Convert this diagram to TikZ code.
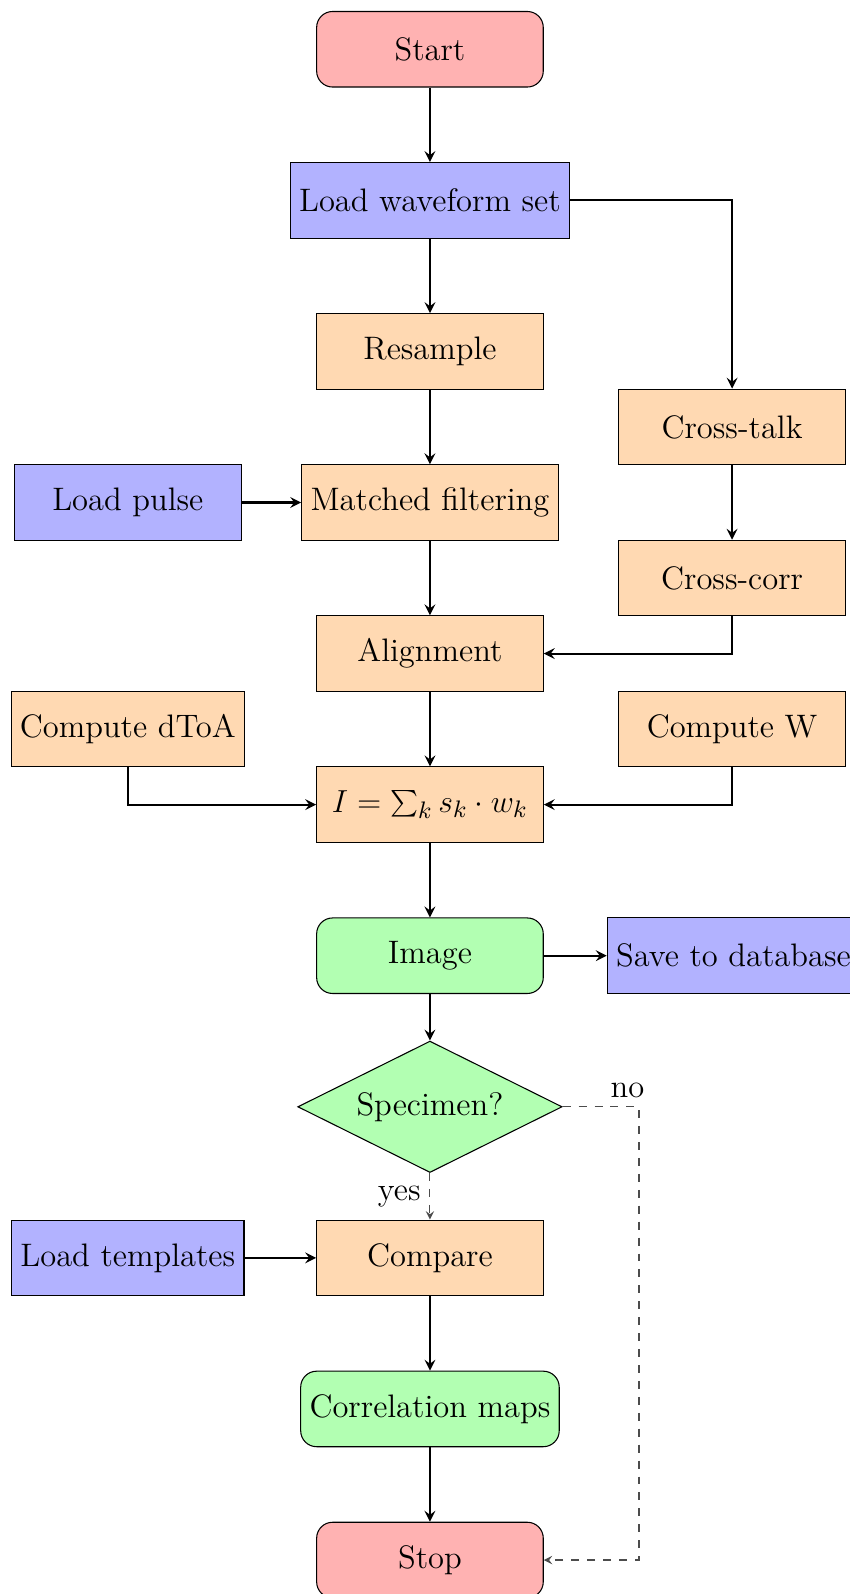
\documentclass[tikz,border=0pt]{standalone}
\usetikzlibrary{shapes.geometric,arrows.meta,positioning}
\begin{document}
\begin{tikzpicture}[
  font=\fontsize{12.25}{15}\selectfont,
  box/.style={draw, thin, minimum width=3cm, minimum height=1cm, align=center},
  startstop/.style={box, rounded corners=6pt, fill=red!30},
  io/.style={box, fill=blue!30},
  proc/.style={box, fill=orange!30},
  res/.style={box, rounded corners=6pt, fill=green!30},
  decision/.style={draw, thin, diamond, aspect=2, fill=green!30, minimum width=3.5cm, minimum height=1.74cm, inner sep=1pt},
  arr/.style={thick, -stealth},
  darr/.style={thin, dashed, black!70, -stealth}
]
\useasboundingbox (-5.692,2.652) rectangle (5.56,-18.45);

\node[startstop] (start) at (0,2) {Start};
\node[io] (load) at (0,0) {Load waveform set};
\node[proc] (resample) at (0,-2) {Resample};
\node[proc] (crosstalk) at (4,-3) {Cross-talk};
\node[io] (pulse) at (-4,-4) {Load pulse};
\node[proc] (matched) at (0,-4) {Matched filtering};
\node[proc] (crosscorr) at (4,-5) {Cross-corr};
\node[proc] (align) at (0,-6) {Alignment};
\node[proc] (dtoa) at (-4,-7) {Compute dToA};
\node[proc] (cw) at (4,-7) {Compute W};
\node[proc] (sum) at (0,-8) {$I = \sum_k s_k \cdot w_k$};
\node[res] (image) at (0,-10) {Image};
\node[io, anchor=west] (save) at (2.34,-10) {Save to database};
\node[decision] (spec) at (0,-12) {Specimen?};
\node[proc] (compare) at (0,-14) {Compare};
\node[io] (templates) at (-4,-14) {Load templates};
\node[res] (corr) at (0,-16) {Correlation maps};
\node[startstop] (stop) at (0,-18) {Stop};

\draw[arr] (start) -- (load);
\draw[arr] (load) -- (resample);
\draw[arr] (load.east) -| (crosstalk.north);
\draw[arr] (resample) -- (matched);
\draw[arr] (pulse) -- (matched);
\draw[arr] (crosstalk) -- (crosscorr);
\draw[arr] (matched) -- (align);
\draw[arr] (crosscorr.south) |- (align.east);
\draw[arr] (align) -- (sum);
\draw[arr] (dtoa.south) |- (sum.west);
\draw[arr] (cw.south) |- (sum.east);
\draw[arr] (sum) -- (image);
\draw[arr] (image) -- (save);
\draw[arr] (image) -- (spec);
\draw[darr] (spec) -- node[left, text=black] {yes} (compare);
\coordinate (nocorner) at ([xshift=1.01cm]spec.east);
\draw[darr] (spec.east) -- node[above, pos=0.85, text=black] {no} (nocorner) |- (stop.east);
\draw[arr] (templates) -- (compare);
\draw[arr] (compare) -- (corr);
\draw[arr] (corr) -- (stop);
\end{tikzpicture}
\end{document}
